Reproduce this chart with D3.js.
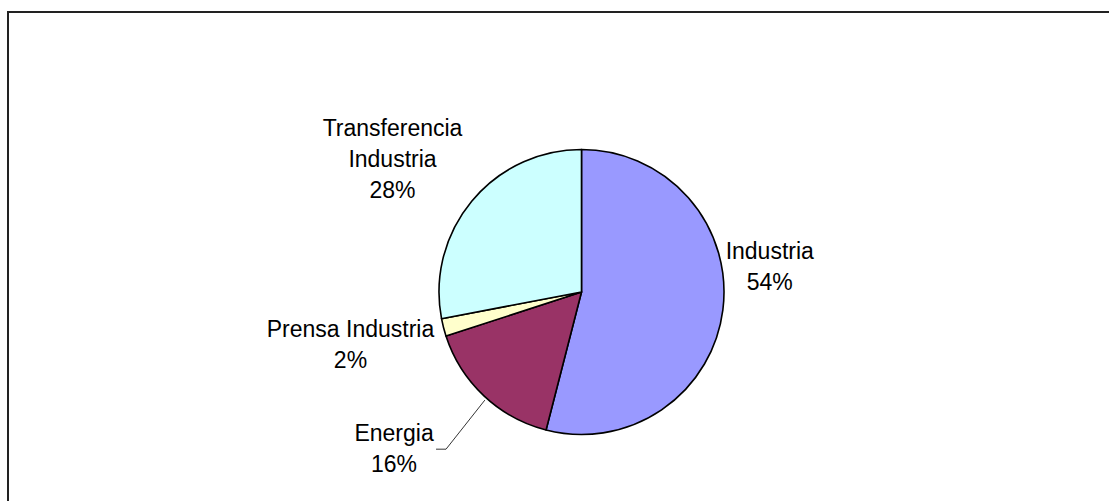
<!DOCTYPE html>
<html>
<head>
<meta charset="utf-8">
<script src="https://cdn.jsdelivr.net/npm/d3@7"></script>
<style>
  body { margin: 0; background: #fff; }
  text { font-family: "Liberation Sans", Arial, sans-serif; font-size: 23px; fill: #000; }
</style>
</head>
<body>
<div id="chart"></div>
<script>
var w = 1109;
var h = 501;

// slices, clockwise from 12 o'clock
var names = ["Industria", "Energia", "Prensa Industria", "Transferencia Industria"];
var values = [54, 16, 2, 28];
var colors = ["#9999FF", "#993366", "#FFFFCC", "#CCFFFF"];
// label text lines (name split as in the picture)
var labelLines = [["Industria"], ["Energia"], ["Prensa Industria"], ["Transferencia", "Industria"]];

var cx = 581.5;
var cy = 292;
var radius = 142.5;

// label placement: distance from centre and angle tweak (degrees), per slice
var labelDist = [190, 244, 237, 231];
var labelTurn = [-15, 7, 1.5, -4.5];

var data = names.map(function (d, i) {
  return { name: d, value: values[i], color: colors[i], lines: labelLines[i] };
});

var svg = d3.select("#chart").append("svg")
  .attr("width", w)
  .attr("height", h);

svg.append("rect")
  .attr("x", 8)
  .attr("y", 12)
  .attr("width", 1300)
  .attr("height", 700)
  .style("fill", "#fff")
  .style("stroke", "#222")
  .style("stroke-width", 2);

var pie = d3.pie()
  .sort(null)
  .value(function (d) { return d.value; });

var arc = d3.arc()
  .innerRadius(0)
  .outerRadius(radius);

var arcs = pie(data);

var chart = svg.append("g").attr("transform", "translate(" + cx + "," + cy + ")");

chart.selectAll("path")
  .data(arcs)
  .join("path")
  .attr("d", arc)
  .style("fill", function (d) { return d.data.color; })
  .style("stroke", "#000")
  .style("stroke-width", 1.6)
  .style("stroke-linejoin", "round");

function midAngle(d) {
  return (d.startAngle + d.endAngle) / 2;
}

function labelPoint(d, i) {
  var a = midAngle(d) + labelTurn[i] * Math.PI / 180;
  return [labelDist[i] * Math.sin(a), -labelDist[i] * Math.cos(a)];
}

var lineH = 31;

var labels = chart.selectAll("g.label")
  .data(arcs)
  .join("g")
  .attr("class", "label")
  .attr("transform", function (d, i) {
    var p = labelPoint(d, i);
    return "translate(" + p[0] + "," + p[1] + ")";
  });

labels.each(function (d) {
  var g = d3.select(this);
  var lines = d.data.lines.concat([d3.format(".0f")(d.value) + "%"]);
  var top = -(lines.length - 1) * lineH / 2 + 8;
  lines.forEach(function (t, j) {
    g.append("text")
      .attr("x", 0)
      .attr("y", top + j * lineH)
      .style("text-anchor", "middle")
      .text(t);
  });
});

// leader line for Energia
var en = arcs[1];
var ea = midAngle(en) - 1.4 * Math.PI / 180;
var ep = labelPoint(en, 1);
var leader = [
  [145 * Math.sin(ea), -145 * Math.cos(ea)],
  [ep[0] + 52, ep[1] + 1],
  [ep[0] + 42, ep[1] + 1]
];
chart.append("path")
  .attr("d", d3.line()(leader))
  .style("fill", "none")
  .style("stroke", "#000")
  .style("stroke-width", 0.8);
</script>
</body>
</html>
